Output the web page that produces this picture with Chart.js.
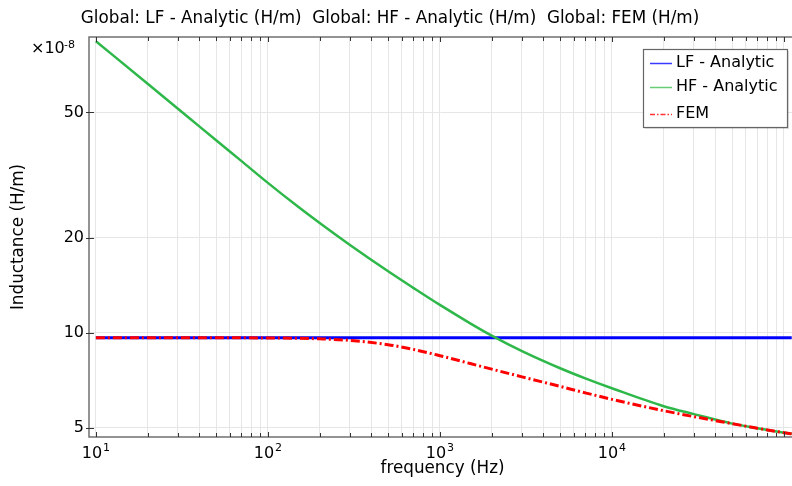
<!DOCTYPE html>
<html>
<head>
<meta charset="utf-8">
<script src="https://cdn.jsdelivr.net/npm/chart.js@4/dist/chart.umd.min.js"></script>
<style>
  html, body { margin: 0; padding: 0; background: #fff; }
  #wrap { width: 792px; height: 486px; position: relative; }
</style>
</head>
<body>
<div id="wrap"><canvas id="chart"></canvas></div>
<script>
// frequency (Hz) and inductance values (x1e-8 H/m)
const freq = [10, 20, 35, 50, 70, 100, 150, 200, 300, 500, 700, 1000, 1500, 2000, 3000, 5000, 7000, 10000, 20000, 30000, 50000, 70000, 100000, 111000];
const lfAnalytic = [9.65, 9.65, 9.65, 9.65, 9.65, 9.65, 9.65, 9.65, 9.65, 9.65, 9.65, 9.65, 9.65, 9.65, 9.65, 9.65, 9.65, 9.65, 9.65, 9.65, 9.65, 9.65, 9.65, 9.65];
const hfAnalytic = [84.1, 61.6, 47.9, 40.8, 35.1, 29.9, 25.1, 22.3, 19.0, 15.68, 13.9, 12.27, 10.73, 9.81, 8.76, 7.73, 7.18, 6.68, 5.86, 5.53, 5.16, 4.99, 4.83, 4.79];
const fem = [9.65, 9.65, 9.65, 9.65, 9.65, 9.64, 9.62, 9.58, 9.47, 9.18, 8.87, 8.47, 8.0, 7.68, 7.26, 6.77, 6.46, 6.16, 5.67, 5.43, 5.16, 4.99, 4.83, 4.79];

const yTicks = [5, 10, 20, 50];
const xDecades = [10, 100, 1000, 10000];
const xExponents = ['1', '2', '3', '4'];
const seriesNames = ['LF - Analytic', 'HF - Analytic', 'FEM'];

const FONT = "'DejaVu Sans', sans-serif";
const GRID = '#e6e6e6';
const AXIS = '#707070';

// minor + major x grid positions
const xGrid = [];
for (let d = 10; d <= 100000; d *= 10) {
    for (let m = 1; m <= 9; m++) {
        if (d * m <= 111000) xGrid.push(d * m);
    }
}

const toPts = vals => freq.map((f, i) => ({ x: f, y: vals[i] }));

const decor = {
    id: 'decor',
    afterDraw(chart) {
        const ctx = chart.ctx;
        const a = chart.chartArea;
        const xs = chart.scales.x;
        const ys = chart.scales.y;
        ctx.save();

        // frame (left, top, bottom)
        ctx.strokeStyle = AXIS;
        ctx.lineWidth = 1.5;
        ctx.beginPath();
        ctx.moveTo(a.right + 2, a.top);
        ctx.lineTo(a.left, a.top);
        ctx.lineTo(a.left, a.bottom);
        ctx.lineTo(a.right + 2, a.bottom);
        ctx.stroke();

        // inward tick marks
        ctx.strokeStyle = '#333';
        ctx.lineWidth = 1;
        ctx.beginPath();
        xGrid.forEach(v => {
            const px = Math.round(xs.getPixelForValue(v)) + 0.5;
            const len = xDecades.includes(v) || v === 100000 ? 5 : 4;
            ctx.moveTo(px, a.bottom);
            ctx.lineTo(px, a.bottom - len);
            ctx.moveTo(px, a.top);
            ctx.lineTo(px, a.top + len);
        });
        yTicks.forEach(v => {
            const py = Math.round(ys.getPixelForValue(v)) + 0.5;
            ctx.moveTo(a.left - 3, py);
            ctx.lineTo(a.left + 5, py);
        });
        ctx.stroke();

        ctx.fillStyle = '#000';

        // x tick labels 10^n
        xDecades.forEach((v, i) => {
            const px = xs.getPixelForValue(v);
            ctx.font = '16px ' + FONT;
            const wb = ctx.measureText('10').width;
            ctx.font = '11px ' + FONT;
            const we = ctx.measureText(xExponents[i]).width;
            const x0 = px - (wb + we + 1) / 2;
            ctx.textBaseline = 'alphabetic';
            ctx.textAlign = 'left';
            ctx.font = '16px ' + FONT;
            ctx.fillText('10', x0, 458);
            ctx.font = '11px ' + FONT;
            ctx.fillText(xExponents[i], x0 + wb + 1, 451);
        });

        // multiplier
        ctx.textAlign = 'left';
        ctx.font = '16px ' + FONT;
        ctx.fillText('\u00d710', 31, 53);
        ctx.font = '11px ' + FONT;
        ctx.fillText('-8', 64, 48);

        // title
        ctx.font = '16.8px ' + FONT;
        ctx.textAlign = 'center';
        ctx.textBaseline = 'middle';
        ctx.fillText('Global: LF - Analytic (H/m)  Global: HF - Analytic (H/m)  Global: FEM (H/m)', 390, 19);

        // axis titles
        ctx.fillText('frequency (Hz)', (a.left + a.right) / 2 + 2, 469);
        ctx.save();
        ctx.translate(19, (a.top + a.bottom) / 2);
        ctx.rotate(-Math.PI / 2);
        ctx.fillText('Inductance (H/m)', 0, 0);
        ctx.restore();

        // legend box
        const lx = 643, ly = 49, lw = 144, lh = 78;
        ctx.fillStyle = 'rgba(0,0,0,0.12)';
        ctx.fillRect(lx + 2, ly + 2, lw, lh);
        ctx.fillStyle = '#fff';
        ctx.fillRect(lx, ly, lw, lh);
        ctx.strokeStyle = '#666';
        ctx.lineWidth = 1.2;
        ctx.strokeRect(lx + 0.5, ly + 0.5, lw, lh);

        const rows = [63, 87, 114];
        const cols = ['#3a3aff', '#66cc77', '#ff3333'];
        const dashes = [[], [], [5, 2, 1.5, 2]];
        rows.forEach((ry, i) => {
            ctx.strokeStyle = cols[i];
            ctx.lineWidth = 1.5;
            ctx.setLineDash(dashes[i]);
            ctx.beginPath();
            ctx.moveTo(650, ry + 0.5);
            ctx.lineTo(672, ry + 0.5);
            ctx.stroke();
            ctx.setLineDash([]);
            ctx.fillStyle = '#000';
            ctx.font = '16px ' + FONT;
            ctx.textAlign = 'left';
            ctx.textBaseline = 'middle';
            ctx.fillText(seriesNames[i], 676, ry);
        });

        ctx.restore();
    }
};

new Chart(document.getElementById('chart'), {
    type: 'line',
    data: {
        datasets: [
            {
                label: seriesNames[0],
                data: toPts(lfAnalytic),
                borderColor: '#0000ff',
                borderWidth: 3,
                pointRadius: 0,
                order: 2
            },
            {
                label: seriesNames[1],
                data: toPts(hfAnalytic),
                borderColor: '#2fb84a',
                borderWidth: 2.5,
                pointRadius: 0,
                cubicInterpolationMode: 'monotone',
                order: 1
            },
            {
                label: seriesNames[2],
                data: toPts(fem),
                borderColor: '#ff0000',
                borderWidth: 3,
                borderDash: [9, 3, 2, 3],
                pointRadius: 0,
                cubicInterpolationMode: 'monotone',
                order: 0
            }
        ]
    },
    options: {
        responsive: true,
        maintainAspectRatio: false,
        animation: false,
        layout: { padding: { top: 37, right: 0, left: 0, bottom: 0 } },
        plugins: {
            legend: { display: false },
            title: { display: false },
            tooltip: { enabled: false }
        },
        scales: {
            x: {
                type: 'logarithmic',
                min: 9.12,
                max: 111400,
                afterBuildTicks: s => { s.ticks = xGrid.map(v => ({ value: v })); },
                afterFit: s => { s.height = 49; },
                grid: { color: GRID, lineWidth: 1, drawTicks: false },
                border: { display: false },
                ticks: { display: false, autoSkip: false }
            },
            y: {
                type: 'logarithmic',
                min: 4.68,
                max: 86.7,
                afterBuildTicks: s => { s.ticks = yTicks.map(v => ({ value: v })); },
                afterFit: s => { s.width = 89; },
                grid: { color: GRID, lineWidth: 1, drawTicks: false },
                border: { display: false },
                ticks: {
                    padding: 5,
                    color: '#000',
                    font: { family: FONT, size: 16 },
                    callback: v => String(v)
                }
            }
        }
    },
    plugins: [decor]
});
</script>
</body>
</html>
